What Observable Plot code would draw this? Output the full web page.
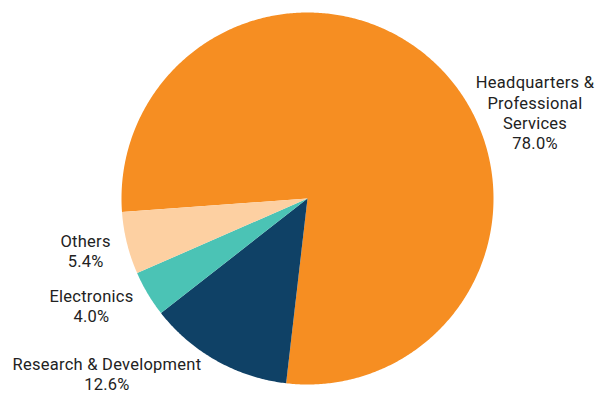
<!DOCTYPE html>
<html>
<head>
<meta charset="utf-8">
<script src="https://cdn.jsdelivr.net/npm/d3@7"></script>
<script src="https://cdn.jsdelivr.net/npm/@observablehq/plot@0.6"></script>
<style>
  html, body { margin: 0; padding: 0; background: #fff; }
  #chart { width: 599px; height: 394px; }
</style>
</head>
<body>
<div id="chart"></div>
<script>
// ---- data ----
const categories = ["Headquarters & Professional Services", "Research & Development", "Electronics", "Others"];
const labelTexts = ["Headquarters &\nProfessional\nServices", "Research & Development", "Electronics", "Others"];
const shares = [78.0, 12.6, 4.0, 5.4];
const colors = ["#F68E22", "#0F4166", "#4BC3B5", "#FDD0A2"];

// ---- layout ----
const W = 599, H = 394;
const startDeg = -94.2;
const fontSize = 16.5;
const letterSpacing = 0.25;
const fontFamily = "Roboto, 'DejaVu Sans', sans-serif";
const labelRadius = 1.09;
const labelDy = 3;
const labelNudge = {
  "Headquarters & Professional Services": [22, 51],
  "Research & Development": [-7, -5]
};

const pie = d3.pie().sort(null).value(d => d)
  .startAngle(startDeg * Math.PI / 180)
  .endAngle(startDeg * Math.PI / 180 + 2 * Math.PI);
const arcs = pie(shares);

// polygon outline of each slice (data units, unit circle)
const pts = [];
arcs.forEach((a, i) => {
  const cat = categories[i];
  pts.push({cat, x: 0, y: 0});
  const n = Math.max(2, Math.ceil((a.endAngle - a.startAngle) / (Math.PI / 360)));
  for (let k = 0; k <= n; k++) {
    const t = a.startAngle + (a.endAngle - a.startAngle) * k / n;
    pts.push({cat, x: Math.sin(t), y: Math.cos(t)});
  }
  pts.push({cat, x: 0, y: 0});
});

// text measurement
const ctx = document.createElement("canvas").getContext("2d");
ctx.font = `${fontSize}px ${fontFamily}`;
const measure = s => ctx.measureText(s).width + letterSpacing * s.length;
const labels = arcs.map((a, i) => {
  const mid = (a.startAngle + a.endAngle) / 2;
  const text = labelTexts[i] + "\n" + shares[i].toFixed(1) + "%";
  const w = d3.max(text.split("\n"), measure);
  const sx = Math.sin(mid), sy = Math.cos(mid);
  const side = sx >= 0 ? 1 : -1;
  const nudge = labelNudge[categories[i]] || [0, 0];
  return {
    cat: categories[i], text,
    x: labelRadius * sx, y: labelRadius * sy,
    dx: side * w / 2 + nudge[0], dy: labelDy + nudge[1]
  };
});

const chart = Plot.plot({
  width: W, height: H,
  margin: 0,
  style: {background: "#fff", fontFamily, fontSize: fontSize + "px", letterSpacing: letterSpacing + "px"},
  x: {domain: [-1, 1], range: [121, 493], axis: null},
  y: {domain: [-1, 1], range: [384, 12], axis: null},
  color: {domain: categories, range: colors},
  marks: [
    Plot.line(pts, {x: "x", y: "y", z: "cat", fill: "cat", stroke: null, curve: "linear"}),
    ...labels.map(l => Plot.text([l], {
      x: "x", y: "y", text: "text", dx: l.dx, dy: l.dy,
      textAnchor: "middle", lineAnchor: "middle", lineHeight: 1.24,
      fill: "#222", fontSize
    }))
  ]
});
document.getElementById("chart").appendChild(chart);
</script>
</body>
</html>
